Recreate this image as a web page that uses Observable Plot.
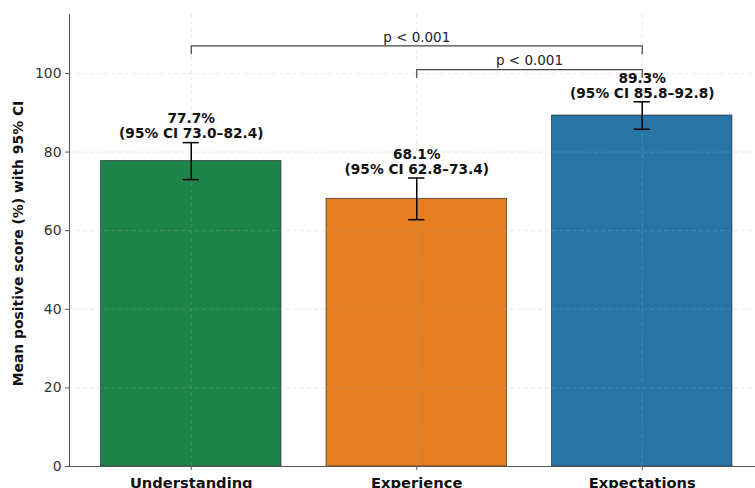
<!DOCTYPE html>
<html>
<head>
<meta charset="utf-8">
<script src="https://cdn.jsdelivr.net/npm/d3@7"></script>
<script src="https://cdn.jsdelivr.net/npm/@observablehq/plot@0.6"></script>
<style>
  html, body { margin: 0; padding: 0; background: #fff; overflow: hidden; }
  #chart svg { overflow: hidden; font-family: "DejaVu Sans", sans-serif; }
  g[aria-label="x-axis tick label"] text { font-weight: bold; }
</style>
</head>
<body>
<div id="chart"></div>
<script>
const categories = ["Understanding", "Experience", "Expectations"];
const means = [77.7, 68.1, 89.3];
const ciLow = [73.0, 62.8, 85.8];
const ciHigh = [82.4, 73.4, 92.8];
const colors = ["#1E8449", "#E67E22", "#2874A6"];
const yTicks = [0, 20, 40, 60, 80, 100];
const yLabel = "Mean positive score (%) with 95% CI";
const compFrom = [0, 1];
const compTo = [2, 2];
const compText = ["p < 0.001", "p < 0.001"];

const data = categories.map((c, i) => ({
  i, cat: c, mean: means[i], lo: ciLow[i], hi: ciHigh[i], color: colors[i],
  label: `${means[i].toFixed(1)}%\n(95% CI ${ciLow[i].toFixed(1)}\u2013${ciHigh[i].toFixed(1)})`
}));

const topCI = d3.max(ciHigh);
// brackets stacked above the tallest interval
const brackets = compFrom.map((f, k) => ({
  from: f, to: compTo[k], text: compText[k],
  y: topCI + 8.2 + (compFrom.length - 1 - k) * 6
}));
const bracketPts = brackets.flatMap((b, k) => [
  {k, x: b.from, y: b.y - 2},
  {k, x: b.from, y: b.y},
  {k, x: b.to, y: b.y},
  {k, x: b.to, y: b.y - 2}
]);

const xDomain = [-0.54, 2.54];
const half = 0.4, cap = 0.036;

const plot = Plot.plot({
  width: 755,
  height: 488,
  marginTop: 14,
  marginBottom: 22,
  marginLeft: 69,
  marginRight: 0,
  style: {fontFamily: "DejaVu Sans, sans-serif", background: "#fff"},
  x: {type: "linear", domain: xDomain, range: [69, 763.5]},
  y: {domain: [0, 115]},
  marks: [
    Plot.rectY(data, {x1: d => d.i - half, x2: d => d.i + half, y1: 0, y2: "mean",
      fill: d => d.color, stroke: "#2a2a2a", strokeWidth: 0.8, strokeOpacity: 0.85}),
    Plot.ruleY(yTicks, {stroke: "#b0b0b0", strokeOpacity: 0.35, strokeDasharray: "4,3", strokeWidth: 0.8}),
    Plot.ruleX(data, {x: "i", stroke: "#b0b0b0", strokeOpacity: 0.35, strokeDasharray: "4,3", strokeWidth: 0.8}),
    Plot.ruleX(data, {x: "i", y1: "lo", y2: "hi", stroke: "#000", strokeWidth: 1.5}),
    Plot.ruleY(data, {y: "lo", x1: d => d.i - cap, x2: d => d.i + cap, stroke: "#000", strokeWidth: 1.5}),
    Plot.ruleY(data, {y: "hi", x1: d => d.i - cap, x2: d => d.i + cap, stroke: "#000", strokeWidth: 1.5}),
    Plot.text(data, {x: "i", y: "hi", text: "label", dy: -16.5, lineHeight: 1.1,
      fontSize: 13.7, fontWeight: "bold", fill: "#111"}),
    Plot.line(bracketPts, {x: "x", y: "y", z: "k", stroke: "#444", strokeWidth: 1.2}),
    Plot.text(brackets, {x: b => (b.from + b.to) / 2, y: "y", text: "text", dy: -8.5,
      fontSize: 13.5, fill: "#222"}),
    Plot.ruleX([xDomain[0]], {stroke: "#555", strokeWidth: 1}),
    Plot.ruleY([0], {stroke: "#555", strokeWidth: 1}),
    Plot.axisY({ticks: yTicks, tickSize: 4, tickPadding: 4, fontSize: 13.9, color: "#333",
      stroke: "#555", label: null}),
    Plot.axisX({ticks: [0, 1, 2], tickFormat: i => categories[i], tickSize: 4, tickPadding: 7,
      fontSize: 14.7, fontWeight: "bold", color: "#111", stroke: "#555", label: null}),
    Plot.text([yLabel], {frameAnchor: "left", textAnchor: "middle", text: d => d, rotate: -90,
      dx: -51, dy: 3, fontSize: 13.9, fontWeight: "bold", fill: "#111"})
  ]
});
document.getElementById("chart").appendChild(plot);
</script>
</body>
</html>
